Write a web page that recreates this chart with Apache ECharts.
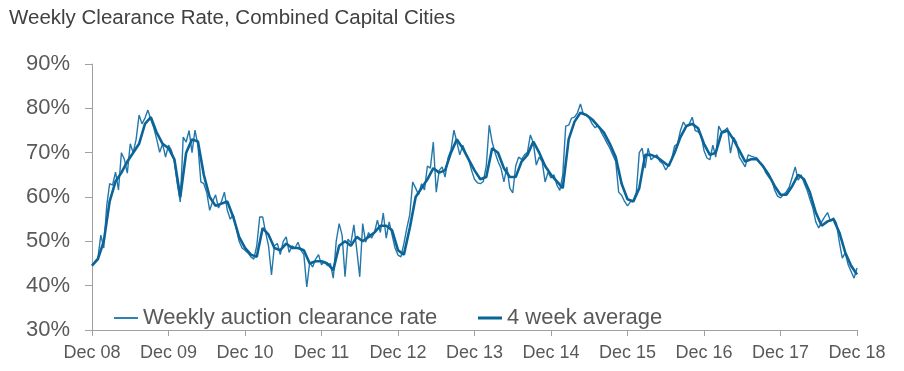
<!DOCTYPE html>
<html>
<head>
<meta charset="utf-8">
<script src="https://cdn.jsdelivr.net/npm/echarts@6/dist/echarts.min.js"></script>
<style>
html,body{margin:0;padding:0;background:#fff;}
#chart{width:904px;height:371px;}
</style>
</head>
<body>
<div id="chart"></div>
<script>
// Tick labels on the x axis (one per year, Dec 2008 .. Dec 2018)
const tickLabels = ['Dec 08','Dec 09','Dec 10','Dec 11','Dec 12','Dec 13','Dec 14','Dec 15','Dec 16','Dec 17','Dec 18'];

// Weekly auction clearance rate (%), sampled every 2 weeks from Dec 08 to Dec 18 (26 per year)
const weeklyRate = [
  44.5,45.5,46.2,51.4,48.5,58,63,62.7,65.6,61.6,70,68.5,65.4,72,70,73,78.5,76.5,77.8,79.6,77.5,75.6,73,70.1,72,69,
  71.7,70.5,68,63,58.9,73.5,72.4,75,70,75.1,71.7,63.4,63,61,57,59,60.5,57.5,59,61.1,57,55,56,53,50,48.5,
  48,47.4,46.5,46,49,55.5,55.5,52,49,42.4,49,49.5,47,50,51,47.5,49,48.5,49.8,48,47,39.7,45.3,44.2,46,47,
  44.7,45.5,44.5,45,41.7,50,54,51.4,42,50.5,49.6,53.7,48,42,54,49.8,52,50.7,52,54.8,52,56.4,50.7,54.4,51.4,48.5,
  46.9,46.5,49.5,53,56,63.4,62,60.5,63,61.6,67,66.5,72.4,61.1,66,66.8,64.5,68.8,70.6,75.1,72.4,69.5,71.7,70,68.5,66,
  64,63.2,63,63.5,67,76.2,72.4,70,68,66.5,63.4,66.8,62,60.9,67,69,68.5,69.5,70.1,74,72.2,67.2,69,68,63.4,65.6,
  64.3,65,62.7,61.5,65,76,76.2,77.8,78,79,81,78.7,78.5,77.8,76.5,75.6,76.2,74.7,73.5,72.2,71,69.5,68,61.1,60.4,59,
  58,58.9,59.3,61,70,71,66.5,71,68.4,69,69.5,68,67.5,66.1,67.2,68.5,71.5,72,75,76.9,75.8,76.5,78,75,74.7,74,
  70.5,68.8,68.4,71.7,69,76,74.7,75,75.6,69.9,73.5,72.4,69,67.9,66.8,69.5,69.2,69,68.8,67.7,67,65.5,64.5,63.8,61.6,60.2,
  59.8,60.5,61.2,62.3,64.5,66.8,63.8,65,63.2,61.6,59.5,57.5,54.4,53,54.4,55.5,56.5,54.5,55.3,54.1,49.8,46.2,47.4,44.7,43.2,41.7,
  44
];

// 4 week average (%), sampled every 4 weeks (13 per year)
const fourWeekAvg = [
  44.5,46,50,59,63.5,65.5,68,70,72,76.5,78,74.5,72,
  71,68.5,60,70,73,72.5,65,60,58,58.5,59,55.5,51,
  48.5,47,46.5,53,51.5,48.5,48,49.5,48.5,48.5,48,45,45.5,
  45.5,45,43.5,49,50,49,51,50,51,52,53.5,53.5,52.5,
  48,47,53,60,62,64,66.5,65.5,66,70,73,71,68.5,
  66,64,64.5,71,70,66.5,64.5,64.5,68,69.5,72.5,70,67,
  65,63.5,62,73,77,79,78.5,77.5,76,74.5,72,69,63,
  59.5,59,62,69.5,69.5,69,68,67,70,73.5,76,76.5,75.5,
  72,69.5,70,74.5,75,73,70.5,68,68.5,68.5,67,65,62.5,
  60.5,60.5,62.5,65,64,61,56.5,53.5,54.5,55,52,47.5,44.5,
  42.5
];

const seriesNames = ['Weekly auction clearance rate', '4 week average'];
const titleText = 'Weekly Clearance Rate, Combined Capital Cities';

const weeklyData = weeklyRate.map((v, i) => [i / 26, v]);
const avgData = fourWeekAvg.map((v, i) => [i / 13, v]);

const FONT = '"Liberation Sans", Arial, sans-serif';
const chart = echarts.init(document.getElementById('chart'), null, {renderer: 'canvas'});
chart.setOption({
  animation: false,
  backgroundColor: '#ffffff',
  title: {
    text: titleText,
    left: 4, top: 3,
    textStyle: {fontFamily: FONT, fontSize: 20.5, fontWeight: 'normal', color: '#404040'}
  },
  legend: [
    {
      data: [{name: seriesNames[0], icon: 'rect'}],
      left: 109, top: 302,
      itemWidth: 24, itemHeight: 2,
      textStyle: {fontFamily: FONT, fontSize: 22, color: '#595959'}
    },
    {
      data: [{name: seriesNames[1], icon: 'rect'}],
      left: 473, top: 302,
      itemWidth: 24, itemHeight: 3,
      itemGap: 0,
      textStyle: {fontFamily: FONT, fontSize: 22, color: '#595959'}
    }
  ],
  grid: {left: 92, right: 47, top: 64, bottom: 41, containLabel: false},
  xAxis: {
    type: 'value', min: 0, max: 10, interval: 1,
    axisLine: {show: true, lineStyle: {color: '#a0a0a0', width: 1}},
    axisTick: {show: true, length: 6, lineStyle: {color: '#a0a0a0'}},
    splitLine: {show: false},
    axisLabel: {
      margin: 14,
      fontFamily: FONT, fontSize: 18, color: '#595959',
      formatter: v => tickLabels[Math.round(v)]
    }
  },
  yAxis: {
    type: 'value', min: 30, max: 90, interval: 10,
    axisLine: {show: true, lineStyle: {color: '#a0a0a0', width: 1}},
    axisTick: {show: true, length: 7, lineStyle: {color: '#a0a0a0'}},
    splitLine: {show: false},
    axisLabel: {
      margin: 22,
      fontFamily: FONT, fontSize: 22, color: '#595959',
      formatter: '{value}%'
    }
  },
  series: [
    {
      name: seriesNames[0], type: 'line', data: weeklyData,
      showSymbol: false, symbol: 'none',
      lineStyle: {color: '#2477ab', width: 1.4},
      itemStyle: {color: '#2f80b3'}
    },
    {
      name: seriesNames[1], type: 'line', data: avgData,
      showSymbol: false, symbol: 'none',
      lineStyle: {color: '#0b6497', width: 2.6},
      itemStyle: {color: '#0b6497'}
    }
  ]
});
</script>
</body>
</html>
